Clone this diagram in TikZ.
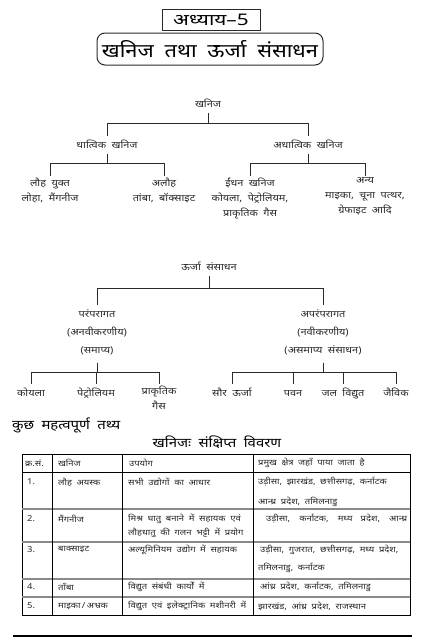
\documentclass[tikz,border=0pt]{standalone}
\usepackage{fontspec}
\setmainfont{Noto Sans}[Script=Devanagari, WordSpace=1.9, FakeStretch=1.15]
\definecolor{INKgray}{HTML}{2A2A2A}
\definecolor{RULEgray}{HTML}{8A8A8A}
\tikzset{
  tnode/.style={font=\fontsize{9.5}{15}\selectfont, text=INKgray, align=center, inner sep=1.5pt,
                execute at begin node=\strut},
  tline/.style={INKgray, line width=0.9pt},
  cell/.style={font=\fontsize{8.2}{9}\selectfont, text=INKgray, anchor=west, inner sep=0pt},
  headtxt/.style={font=\bfseries\fontsize{13}{15}\selectfont, inner sep=0pt},
}

\begin{document}
\begin{tikzpicture}[x=1pt, y=-1pt]
  \useasboundingbox (0,0) rectangle (440,640);
  % Title
  \node[draw=INKgray, line width=1pt, minimum width=98pt, minimum height=21pt,
        font=\bfseries\fontsize{16}{18}\selectfont\addfontfeatures{FakeStretch=1.3}]
        (chap) at (211,19.5) {अध्याय–5};
  \node[draw=INKgray, line width=1pt, rounded corners=8pt, minimum width=226pt,
        minimum height=32pt, font=\bfseries\fontsize{19}{21}\selectfont] (ttl) at (210,49)
        {खनिज तथा ऊर्जा संसाधन};

  % Tree 1: minerals
  \node[tnode] (khanij) at (208,104) {खनिज};
  \node[tnode] (dhatvik) at (107,145) {धात्विक खनिज};
  \node[tnode] (adhatvik) at (308,145) {अधात्विक खनिज};
  \node[tnode, anchor=north] (lauh) at (50,176) {लौह युक्त\\लोहा, मैंगनीज};
  \node[tnode, anchor=north] (alauh) at (164,176) {अलौह\\तांबा, बॉक्साइट};
  \node[tnode, anchor=north] (indhan) at (250,176) {ईंधन खनिज\\कोयला, पेट्रोलियम,\\प्राकृतिक गैस};
  \node[tnode, anchor=north] (anya) at (365,176) {अन्य\\माइका, चूना पत्थर,\\ग्रेफाइट आदि};
  \coordinate (bar1) at (0,123);
  \coordinate (bar2) at (0,163);
  \foreach \c in {dhatvik, adhatvik}
    \draw[tline] (khanij.south) -- (khanij.south |- bar1) -| (\c.north);
  \foreach \c in {lauh, alauh}
    \draw[tline] (dhatvik.south) -- (dhatvik.south |- bar2) -| (\c.north);
  \foreach \c in {indhan, anya}
    \draw[tline] (adhatvik.south) -- (adhatvik.south |- bar2) -| (\c.north);

  % Tree 2: energy resources
  \node[tnode] (urja) at (209,267) {ऊर्जा संसाधन};
  \node[tnode, font=\fontsize{9.5}{18}\selectfont, inner ysep=4pt, anchor=north] (param)
    at (97,305) {परंपरागत\\(अनवीकरणीय)\\(समाप्य)};
  \node[tnode, font=\fontsize{9.5}{18}\selectfont, inner ysep=4pt, anchor=north] (aparam)
    at (323,305) {अपरंपरागत\\(नवीकरणीय)\\(असमाप्य संसाधन)};
  \node[tnode, anchor=north] (koyla) at (31,384) {कोयला};
  \node[tnode, anchor=north] (petrol) at (96,384) {पेट्रोलियम};
  \node[tnode, anchor=north] (prakrit) at (159,384) {प्राकृतिक\\गैस};
  \node[tnode, anchor=north] (saur) at (232,384) {सौर ऊर्जा};
  \node[tnode, anchor=north] (pavan) at (293,384) {पवन};
  \node[tnode, anchor=north] (jal) at (343,384) {जल विद्युत};
  \node[tnode, anchor=north] (jaivik) at (396,384) {जैविक};
  \coordinate (bar3) at (0,288);
  \coordinate (bar4) at (0,372);
  \foreach \c in {param, aparam}
    \draw[tline] (urja.south) -- (urja.south |- bar3) -| (\c.north);
  \foreach \c in {koyla, petrol, prakrit}
    \draw[tline] (param.south) -- (param.south |- bar4) -| (\c.north);
  \foreach \c in {saur, pavan, jal, jaivik}
    \draw[tline] (aparam.south) -- (aparam.south |- bar4) -| (\c.north);

  % Facts
  \node[headtxt, anchor=west] (facts) at (12,425) {कुछ महत्वपूर्ण तथ्य};
  \node[headtxt] (tabttl) at (217,442) {खनिजः संक्षिप्त विवरण};

  % Table grid
  \draw[line width=1pt] (22,454) rectangle (410,615);
  \draw[line width=0.7pt] (22,472) -- (410,472);
  \foreach \y in {509,542,579,597}
    \draw[RULEgray, line width=1.1pt] (22,\y) -- (410,\y);
  \foreach \x in {52,122,253}
    \draw[line width=0.8pt] (\x,454) -- (\x,615);

  % Table text
  \node[cell] (h1) at (25,463) {क्र.सं.};
  \node[cell] (h2) at (58,463) {खनिज};
  \node[cell] (h3) at (129,463) {उपयोग};
  \node[cell] (h4) at (258,463) {प्रमुख क्षेत्र जहाँ पाया जाता है};

  \node[cell] (n1) at (27,482) {1.};
  \node[cell] (m1) at (58,482) {लौह अयस्क};
  \node[cell] (u1) at (128,482) {सभी उद्योगों का आधार};
  \node[cell] (a1) at (258,482) {उड़ीसा, झारखंड, छत्तीसगढ़, कर्नाटक};
  \node[cell] (b1) at (258,502) {आन्ध्र प्रदेश, तमिलनाडु};

  \node[cell] (n2) at (27,519) {2.};
  \node[cell] (m2) at (58,519) {मैंगनीज};
  \node[cell] (u2) at (128,519) {मिश्र धातु बनाने में सहायक एवं};
  \node[cell] (v2) at (128,533) {लौहधातु की गलन भट्टी में प्रयोग};
  \node[cell] (a2) at (266,519) {\makebox[141pt][s]{उड़ीसा, कर्नाटक, मध्य प्रदेश, आन्ध्र}};

  \node[cell] (n3) at (27,550) {3.};
  \node[cell] (m3) at (58,550) {बाक्साइट};
  \node[cell] (u3) at (128,550) {अल्यूमिनियम उद्योग में सहायक};
  \node[cell] (a3) at (260,550) {उड़ीसा, गुजरात, छत्तीसगढ़, मध्य प्रदेश,};
  \node[cell] (b3) at (258,568) {तमिलनाडु, कर्नाटक};

  \node[cell] (n4) at (27,587) {4.};
  \node[cell] (m4) at (58,587) {ताँबा};
  \node[cell] (u4) at (128,587) {विद्युत संबंधी कार्यों में};
  \node[cell] (a4) at (260,587) {आंध्र प्रदेश, कर्नाटक, तमिलनाडु};

  \node[cell] (n5) at (27,606) {5.};
  \node[cell] (m5) at (58,606) {माइका\,/\,अभ्रक};
  \node[cell] (u5) at (128,606) {विद्युत एवं इलेक्ट्रानिक मशीनरी में};
  \node[cell] (a5) at (258,606) {झारखंड, आंध्र प्रदेश, राजस्थान};

  % Bottom rule
  \draw[line width=2.5pt] (13,636) -- (412,636);
\end{tikzpicture}
\end{document}
